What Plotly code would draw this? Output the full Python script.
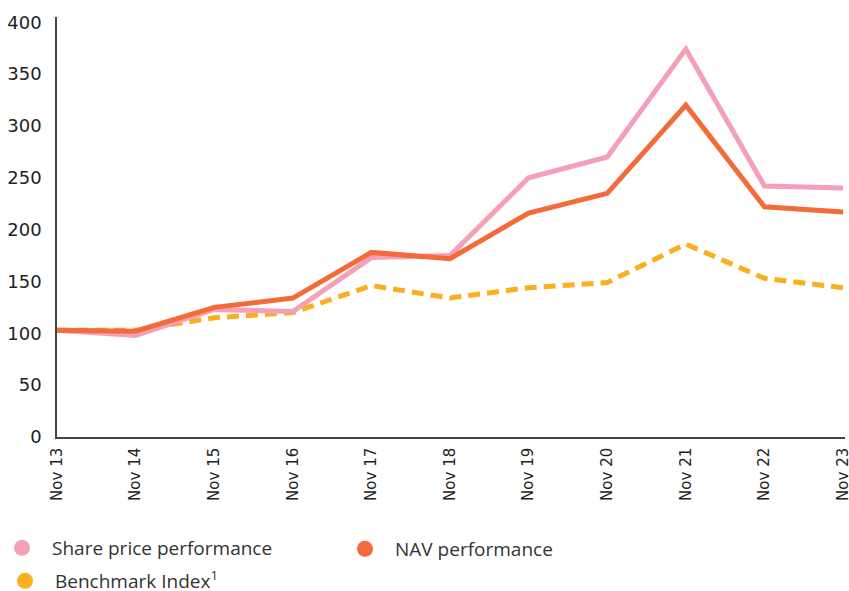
import plotly.graph_objects as go

categories = ["Nov 13", "Nov 14", "Nov 15", "Nov 16", "Nov 17", "Nov 18",
              "Nov 19", "Nov 20", "Nov 21", "Nov 22", "Nov 23"]
share_price = [103, 98, 123, 121, 173, 175, 250, 270, 374, 242, 240]
nav = [103, 102, 125, 134, 178, 172, 216, 235, 320, 222, 217]
benchmark = [103, 103, 115, 120, 146, 134, 144, 149, 186, 153, 144]
y_ticks = [0, 50, 100, 150, 200, 250, 300, 350, 400]

PINK = "#F4A0B7"
ORANGE = "#F26B38"
YELLOW = "#FBAE20"

fig = go.Figure()
xs = list(range(len(categories)))
fig.add_trace(go.Scatter(x=xs, y=benchmark, mode="lines",
                         line=dict(color=YELLOW, width=5, dash="12px,7px"), showlegend=False))
fig.add_trace(go.Scatter(x=xs, y=share_price, mode="lines",
                         line=dict(color=PINK, width=5), showlegend=False))
fig.add_trace(go.Scatter(x=xs, y=nav, mode="lines",
                         line=dict(color=ORANGE, width=5), showlegend=False))

PW = 849 - 57 - 4
leg_font = dict(size=19, family="Open Sans, Roboto, sans-serif", color="#333")
legend_items = [("Share price performance", PINK, "legend", 22, 548),
                ("NAV performance", ORANGE, "legend2", 365, 549),
                ("Benchmark Index<sup>1</sup>", YELLOW, "legend3", 25, 581)]
legend_layout = {}
for name, col, lg, mx, my in legend_items:
    fig.add_trace(go.Scatter(x=[None], y=[None], mode="markers", name=name, legend=lg,
                             marker=dict(color=col, size=20, symbol="circle")))
    legend_layout[lg] = dict(orientation="h", x=(mx - 30 - 57) / PW, xref="paper",
                             y=1 - my / 591, yref="container", yanchor="middle",
                             itemwidth=50, font=leg_font, itemsizing="trace")

fig.update_layout(
    width=849, height=591,
    margin=dict(l=57, r=4, t=17, b=154, autoexpand=False),
    plot_bgcolor="white", paper_bgcolor="white",
    font=dict(family="DejaVu Sans, sans-serif", color="#222"),
    xaxis=dict(range=[0, 10.025], tickvals=xs, ticktext=categories, tickangle=-90,
               showgrid=False, zeroline=False, showline=True, linecolor="#444", linewidth=1.5,
               ticks="", tickfont=dict(size=15, color="#222"), automargin=False,
               ticklabeloverflow="allow", ticklabelstandoff=3),
    yaxis=dict(range=[0, 405], tickvals=y_ticks, showgrid=False, zeroline=False,
               showline=True, linecolor="#444", linewidth=1.5, ticks="",
               tickfont=dict(size=18, color="#222"), ticklabelstandoff=10, automargin=False),
    **legend_layout,
)

fig.write_html("out.html", config={"displayModeBar": False},
               post_script="document.body.style.margin='0';document.body.style.overflow='hidden';")
